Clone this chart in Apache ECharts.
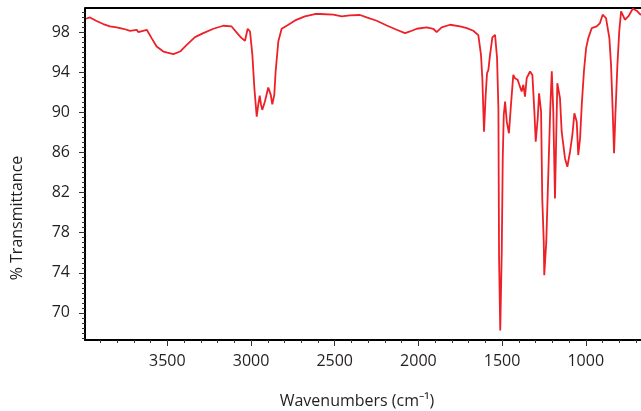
<!DOCTYPE html>
<html>
<head>
<meta charset="utf-8">
<script src="https://cdn.jsdelivr.net/npm/echarts@6/dist/echarts.min.js"></script>
<style>
html,body{margin:0;padding:0;background:#fff;}
#chart{width:641px;height:411px;}
</style>
</head>
<body>
<div id="chart"></div>
<script>
// Wavenumbers (cm-1) and % transmittance
const wavenumber = [3986,3962,3923,3883,3843,3803,3763,3723,3683,3674,3623,3594,3564,3524,3464,3424,3384,3335,3285,3225,3166,3116,3078,3056,3036,3020,3006,2992,2980,2966,2957,2948,2940,2933,2917,2897,2882,2873,2861,2853,2837,2817,2777,2737,2678,2618,2588,2508,2458,2409,2349,2309,2249,2189,2130,2080,2050,2010,1950,1911,1891,1861,1811,1751,1711,1672,1642,1626,1618,1608,1598,1590,1582,1572,1558,1542,1530,1522,1518,1511,1502,1496,1490,1482,1472,1459,1447,1433,1423,1407,1397,1383,1373,1363,1353,1333,1319,1307,1299,1287,1279,1267,1260,1251,1248,1236,1224,1212,1203,1194,1184,1170,1154,1144,1124,1110,1094,1080,1068,1054,1045,1034,1024,1011,998,985,964,935,915,899,879,859,849,839,831,823,811,800,789,766,746,719,696,676,670];
const transmittance = [99.33,99.46,99.1,98.8,98.56,98.46,98.33,98.13,98.23,98.0,98.23,97.4,96.56,96.06,95.8,96.06,96.73,97.5,97.9,98.33,98.63,98.56,97.8,97.4,97.13,98.33,98.06,95.73,92.4,89.57,90.74,91.67,90.74,90.24,91.07,92.47,91.74,90.8,91.74,94.07,97.06,98.33,98.73,99.16,99.56,99.8,99.8,99.73,99.56,99.66,99.7,99.46,99.13,98.66,98.23,97.9,98.06,98.33,98.46,98.33,98.0,98.46,98.73,98.56,98.4,98.13,97.7,95.73,93.4,88.07,91.74,93.9,94.2,95.73,97.46,97.73,95.4,90.4,75.45,68.26,76.08,85.41,89.74,91.07,89.07,87.91,90.74,93.73,93.4,93.24,92.74,92.07,92.74,91.57,93.4,94.07,93.73,90.07,87.07,89.41,91.9,90.07,81.42,77.08,73.75,77.08,83.74,90.4,94.1,90.0,81.42,92.9,91.4,88.07,85.4,84.57,86.07,87.74,89.9,89.07,85.74,87.4,90.74,94.07,96.4,97.4,98.4,98.56,98.9,99.73,99.4,97.4,94.73,90.07,85.91,89.74,94.73,98.06,100.06,99.23,99.56,100.33,100.13,99.8,99.7];
const xTickLabels = [1000,1500,2000,2500,3000,3500];
const yTickLabels = [70,74,78,82,86,90,94,98];

const xMin = 670, xMax = 3992, yMin = 67.3, yMax = 100.4;
const xMinor = []; for (let v = 700; v <= 3900; v += 100) xMinor.push(v);
const yMinor = []; for (let v = 67.5; v <= 100; v += 0.5) yMinor.push(v);

const data = wavenumber.map((w, i) => [w, transmittance[i]]);
const font = 'Open Sans';
const textColor = '#231f20';
const chart = echarts.init(document.getElementById('chart'), null, {renderer: 'canvas'});
chart.setOption({
  animation: false,
  backgroundColor: '#fff',
  grid: {left: 85, right: 0, top: 8, bottom: 71},
  xAxis: [{
    type: 'value', min: xMin, max: xMax, inverse: true,
    axisLine: {show: true, onZero: false, lineStyle: {color: '#000', width: 2}},
    axisTick: {show: true, length: 6, customValues: xTickLabels, lineStyle: {color: '#333', width: 1}},
    axisLabel: {customValues: xTickLabels, margin: 13, color: textColor, fontFamily: font, fontSize: 16, formatter: v => String(v)},
    splitLine: {show: false}
  }, {
    type: 'value', min: xMin, max: xMax, inverse: true, position: 'bottom',
    axisLine: {show: false},
    axisTick: {show: true, length: 3, customValues: xMinor, lineStyle: {color: '#333', width: 1}},
    axisLabel: {show: false},
    splitLine: {show: false}
  }],
  yAxis: [{
    type: 'value', min: yMin, max: yMax,
    axisLine: {show: true, onZero: false, lineStyle: {color: '#000', width: 2}},
    axisTick: {show: true, length: 6, customValues: yTickLabels, lineStyle: {color: '#333', width: 1}},
    axisLabel: {customValues: yTickLabels, margin: 15, color: textColor, fontFamily: font, fontSize: 16, formatter: v => String(v)},
    splitLine: {show: false}
  }, {
    type: 'value', min: yMin, max: yMax, position: 'left',
    axisLine: {show: false},
    axisTick: {show: true, length: 3, customValues: yMinor, lineStyle: {color: '#333', width: 1}},
    axisLabel: {show: false},
    splitLine: {show: false}
  }],
  graphic: [
    {type: 'line', shape: {x1: 85, y1: 8, x2: 641, y2: 8}, style: {stroke: '#000', lineWidth: 2}},
    {type: 'text', x: 17, y: 218, rotation: Math.PI / 2,
     style: {text: '% Transmittance', fill: textColor, font: '16px "Open Sans"', textAlign: 'center', textVerticalAlign: 'middle'}},
    {type: 'text', x: 357, y: 401,
     style: {text: 'Wavenumbers (cm⁻¹)', fill: textColor, font: '16px "Open Sans"', textAlign: 'center', textVerticalAlign: 'middle'}}
  ],
  series: [{
    type: 'line', xAxisIndex: 0, yAxisIndex: 0, data: data,
    showSymbol: false, symbol: 'none',
    lineStyle: {color: '#ee2027', width: 1.8},
    clip: true
  }]
});
</script>
</body>
</html>
